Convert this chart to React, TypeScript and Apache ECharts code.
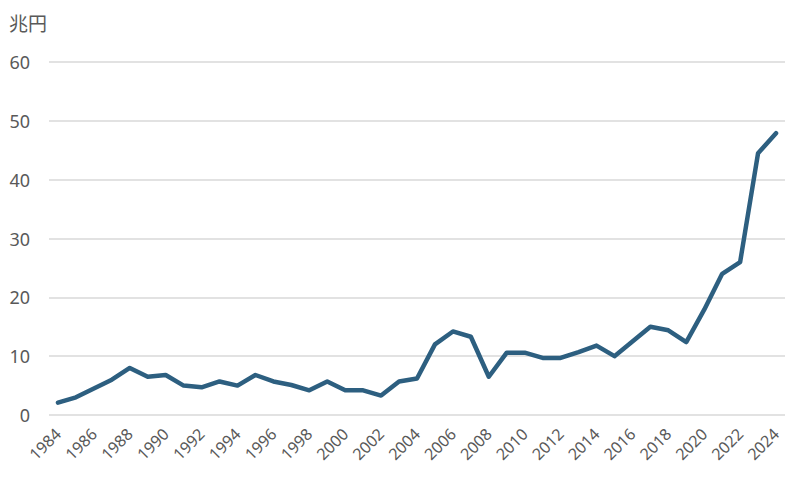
import React, { useEffect, useRef } from "react";
import * as echarts from "echarts";

const years: string[] = [
  "1984", "1985", "1986", "1987", "1988", "1989", "1990", "1991", "1992", "1993",
  "1994", "1995", "1996", "1997", "1998", "1999", "2000", "2001", "2002", "2003",
  "2004", "2005", "2006", "2007", "2008", "2009", "2010", "2011", "2012", "2013",
  "2014", "2015", "2016", "2017", "2018", "2019", "2020", "2021", "2022", "2023",
  "2024",
];

const values: number[] = [
  2.1, 3.0, 4.5, 6.0, 8.0, 6.5, 6.8, 5.0, 4.7, 5.7,
  5.0, 6.8, 5.7, 5.1, 4.2, 5.7, 4.2, 4.2, 3.3, 5.7,
  6.2, 12.0, 14.2, 13.3, 6.5, 10.6, 10.6, 9.7, 9.7, 10.7,
  11.8, 10.0, 12.5, 15.0, 14.4, 12.4, 17.9, 24.0, 26.0, 44.5,
  47.9,
];

const unitLabel = "兆円";
const yMin = 0;
const yMax = 60;
const yInterval = 10;

export default function App() {
  const ref = useRef<HTMLDivElement>(null);

  useEffect(() => {
    if (!ref.current) return;
    const chart = echarts.init(ref.current, undefined, { renderer: "svg" });
    const font = "'Noto Sans', 'Noto Sans CJK JP', sans-serif";
    chart.setOption({
      animation: false,
      backgroundColor: "#ffffff",
      textStyle: { fontFamily: font },
      graphic: [
        {
          type: "text",
          left: 9,
          top: 13,
          style: {
            text: unitLabel,
            fill: "#595959",
            fontSize: 19,
            fontFamily: "'Noto Sans CJK JP', sans-serif",
          },
        },
      ],
      grid: { left: 49, right: 15, top: 62, bottom: 65, containLabel: false },
      xAxis: {
        type: "category",
        data: years,
        boundaryGap: true,
        axisLine: { show: false },
        axisTick: { show: false },
        axisLabel: {
          interval: 1,
          rotate: 45,
          color: "#595959",
          fontSize: 16,
          fontFamily: font,
          margin: 16,
        },
      },
      yAxis: {
        type: "value",
        min: yMin,
        max: yMax,
        interval: yInterval,
        axisLine: { show: false },
        axisTick: { show: false },
        axisLabel: {
          color: "#595959",
          fontSize: 18,
          fontFamily: font,
          margin: 19,
        },
        splitLine: { lineStyle: { color: "#d9d9d9", width: 1.5 } },
      },
      series: [
        {
          type: "line",
          data: values,
          symbol: "none",
          lineStyle: { color: "#2d5f80", width: 4.5, cap: "round", join: "round" },
        },
      ],
    });
    return () => chart.dispose();
  }, []);

  return <div ref={ref} style={{ width: 800, height: 480, position: "absolute", left: 0, top: 0 }} />;
}
